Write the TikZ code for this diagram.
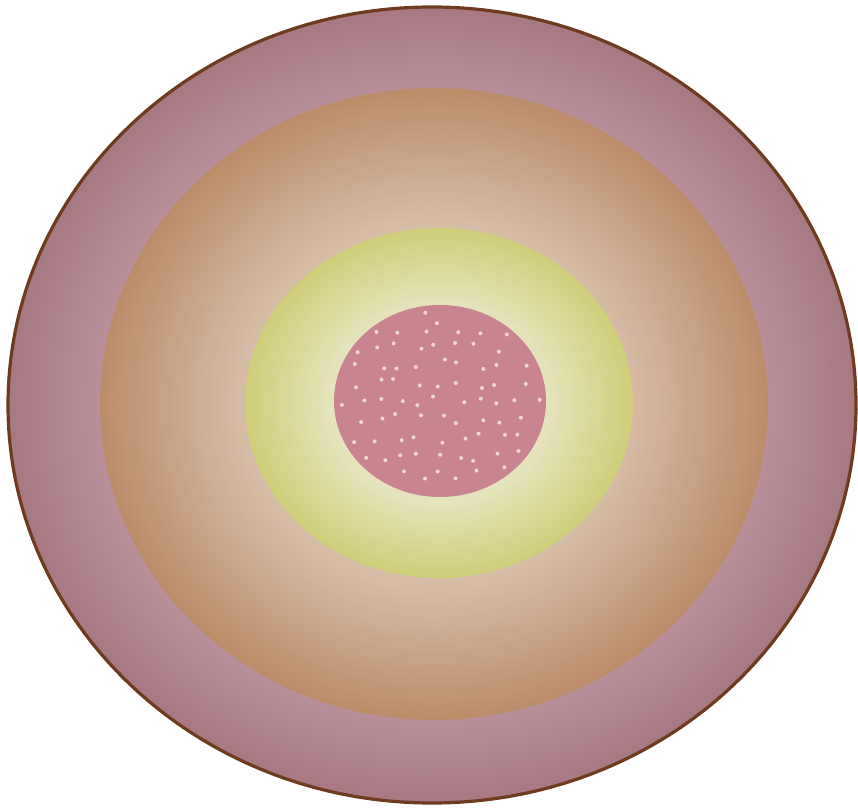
\documentclass[tikz,border=0pt]{standalone}
\usetikzlibrary{calc}
\definecolor{outA}{HTML}{C8A4AC}
\definecolor{outB}{HTML}{B78F99}
\definecolor{outC}{HTML}{A77881}
\definecolor{tanA}{HTML}{EEE2D6}
\definecolor{tanB}{HTML}{D6BBA6}
\definecolor{tanC}{HTML}{BA8D68}
\definecolor{yelA}{HTML}{F2F2DE}
\definecolor{yelB}{HTML}{E6E4BE}
\definecolor{yelC}{HTML}{CFCE7A}
\definecolor{pinkc}{HTML}{C8858F}
\definecolor{dotc}{HTML}{F2D6D4}
\definecolor{rimc}{HTML}{6E3B1E}
\pgfdeclareradialshading{outshade}{\pgfpoint{0bp}{0bp}}{color(0bp)=(outA); color(19.75bp)=(outB); color(25bp)=(outC); color(50bp)=(outC)}
\pgfdeclareradialshading{tanshade}{\pgfpoint{0bp}{0bp}}{color(0bp)=(tanA); color(14.5bp)=(tanB); color(25bp)=(tanC); color(50bp)=(tanC)}
\pgfdeclareradialshading{yelshade}{\pgfpoint{0bp}{0bp}}{color(0bp)=(yelA); color(13.5bp)=(yelB); color(25bp)=(yelC); color(50bp)=(yelC)}
\tikzset{rim/.style={draw=rimc,line width=3.2pt}}
\begin{document}
\begin{tikzpicture}[x=1pt,y=1pt]
\useasboundingbox (0,0) rectangle (858,807);
\fill[white] (0,0) rectangle (858,807);
\shade[shading=outshade] (432,402) ellipse [x radius=424,y radius=398];
\shade[shading=tanshade] (434,403) ellipse [x radius=334,y radius=316];
\shade[shading=yelshade] (439,404) ellipse [x radius=194,y radius=175];
\fill[pinkc] (440,406) ellipse [x radius=106,y radius=96];
\pgfmathsetseed{11}
\foreach \gx in {-100,-80,...,100}{
  \foreach \gy in {-90,-72,...,90}{
    \pgfmathsetmacro{\px}{\gx+(rnd-0.5)*14}
    \pgfmathsetmacro{\py}{\gy+(rnd-0.5)*12}
    \pgfmathsetmacro{\inside}{(\px/100)^2+(\py/90)^2<1 ? 1 : 0}
    \ifnum\inside=1
      \fill[dotc] ({440+\px},{406+\py}) circle (2.0);
    \fi
  }
}
\draw[rim] (432,402) ellipse [x radius=424,y radius=398];
\end{tikzpicture}
\end{document}
